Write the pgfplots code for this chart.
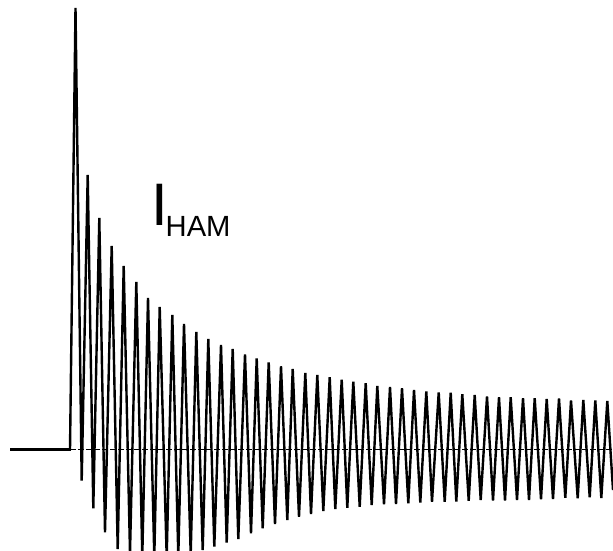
\documentclass[border=0pt]{standalone}
\usepackage{pgfplots}
\pgfplotsset{compat=1.18}
\usepackage{fontspec}
\setmainfont{Liberation Sans}
\begin{document}
\begin{tikzpicture}
\begin{axis}[
  scale only axis,
  width=306.5bp, height=275.5bp,
  xmin=0, xmax=613, ymin=-101, ymax=450,
  hide axis,
  clip=true,
]
% dashed zero line
\addplot[black, line width=0.5bp, dash pattern=on 3bp off 1bp] coordinates {(70,0) (613,0)};
% flat pre-trigger segment
\addplot[black, line width=1.5bp] coordinates {(10,0) (70.5,0)};
% damped oscillation (peaks and troughs)
\addplot[black, line width=1.2bp, line join=miter, miter limit=2] coordinates {
(70,0) (75.5,442) (81.7,-30.7) (87.7,275) (93.3,-58.3) (99.3,232) (105,-82.3)
(111.7,204) (117.7,-99) (123.7,184) (130,-103) (136.3,168) (142.3,-106)
(148,152) (154.3,-107) (159.7,143) (166.7,-107) (172.3,135) (178.3,-106)
(184,126) (190.7,-104) (196.3,118) (202.7,-100) (208.3,111) (214.3,-96.7)
(221,105) (226.7,-92.7) (232.7,101) (238.3,-89) (245,95.7) (251,-83.3)
(256.7,91.7) (262.7,-78.3) (268.7,87.7) (275,-74) (281,83.7) (287.3,-70)
(292.7,81) (299,-66.7) (305.3,77) (311,-64) (317.3,75) (323.3,-61)
(329.7,72.7) (335.3,-59) (341.7,70.3) (347.3,-57.7) (353.3,68.3) (359.7,-56.7)
(365.7,66.7) (371.7,-55) (377.3,64) (384,-54.3) (390,63) (396,-54)
(402,61.7) (408.3,-53.3) (414,60) (420.3,-52.5) (426.3,58.5) (432,-51.7)
(438.7,57.5) (444.7,-51.7) (450.7,57.3) (456.3,-51.5) (462.3,55.7) (468.7,-50.7)
(474.7,55) (480.7,-50) (487,53.5) (493,-50.5) (499,52.7) (505,-50.5)
(510.7,52.7) (517,-50) (523,51.7) (529,-50) (534.7,51.7) (541,-49.3)
(546.7,51) (553,-49) (559,51.5) (565.3,-47.7) (571,49.5) (577.7,-48.3)
(583.3,50) (589.7,-47.3) (595.3,49.5) (601.3,-48) (607.3,49) (613,-40)
};
\node[anchor=base west, inner sep=0pt] at (axis cs:151,224) {\fontsize{30bp}{30bp}\selectfont I\hspace{-1.2bp}\raisebox{-5.5bp}{\fontsize{14.6bp}{14.6bp}\selectfont HAM}};
\end{axis}
\pgfresetboundingbox
\path[use as bounding box] (current axis.south west) rectangle (current axis.north east);
\end{tikzpicture}
\end{document}
